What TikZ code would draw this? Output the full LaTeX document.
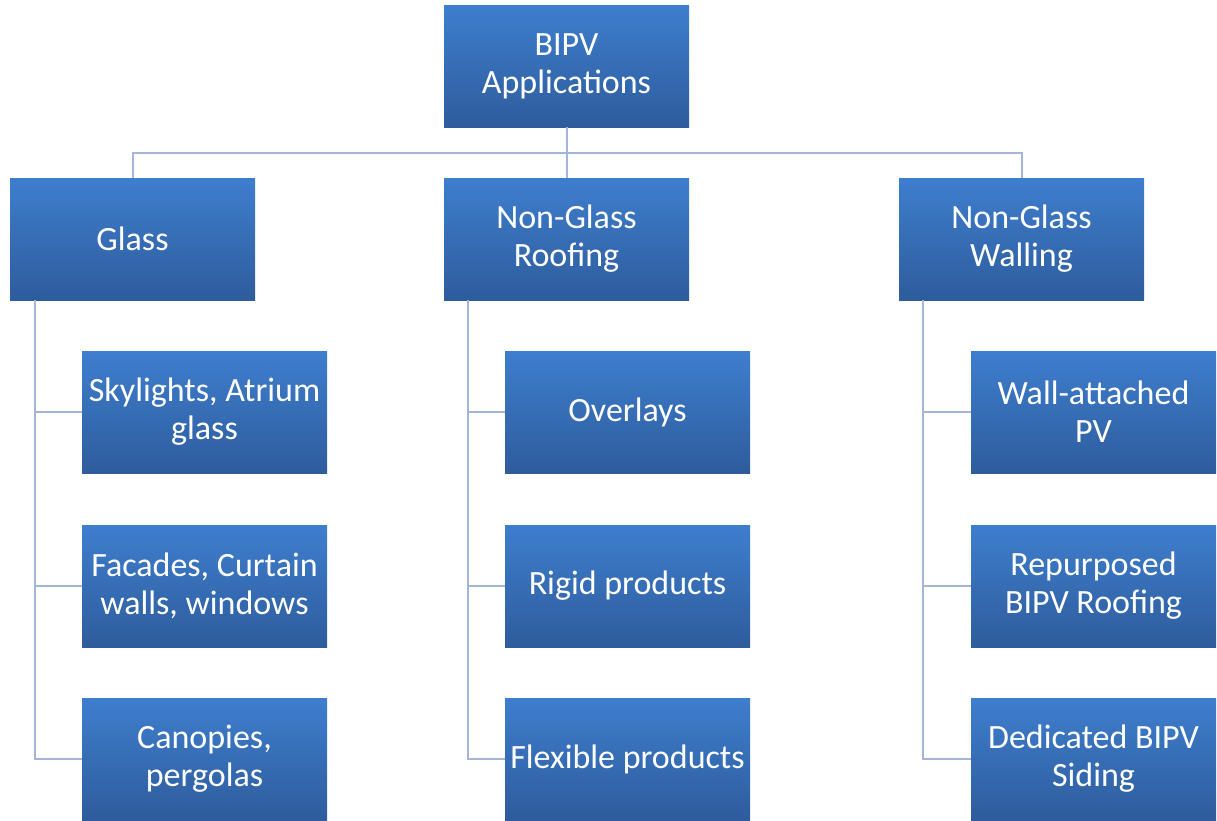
\documentclass[tikz,border=0pt]{standalone}
\usepackage{fontspec}
\setmainfont{Carlito}
\definecolor{boxtop}{RGB}{62,126,206}
\definecolor{boxbot}{RGB}{46,92,156}
\definecolor{linec}{RGB}{163,182,216}
\begin{document}
\begin{tikzpicture}[x=1pt,y=-1pt,
  box/.style={rectangle, minimum width=245pt, minimum height=122pt, inner sep=0pt,
    top color=boxtop, bottom color=boxbot, draw=none, text=white, align=center,
    font=\fontsize{34}{38}\selectfont},
  conn/.style={draw=linec, line width=2pt}]
\useasboundingbox (0,0) rectangle (1217,820);
\node[box] (root) at (566.5,66) {BIPV\\Applications};
\node[box] (glass) at (132.5,239) {Glass};
\node[box] (roof) at (566.5,239) {Non-Glass\\Roofing};
\node[box] (wall) at (1021.5,239) {Non-Glass\\Walling};
\node[box] (g1) at (204.5,412) {Skylights, Atrium\\glass};
\node[box] (g2) at (204.5,586) {Facades, Curtain\\walls, windows};
\node[box] (g3) at (204.5,759) {Canopies,\\pergolas};
\node[box] (r1) at (627.5,412) {Overlays};
\node[box] (r2) at (627.5,586) {Rigid products};
\node[box] (r3) at (627.5,759) {Flexible products};
\node[box] (w1) at (1093.5,412) {Wall-attached\\PV};
\node[box] (w2) at (1093.5,586) {Repurposed\\BIPV Roofing};
\node[box] (w3) at (1093.5,759) {Dedicated BIPV\\Siding};
\begin{scope}[on background layer/.try]
\end{scope}
\coordinate (hb) at (566.5,153);
\draw[conn] (root.south) -- (hb);
\draw[conn] (glass.north) -- (glass.north |- hb) -- (wall.north |- hb) -- (wall.north);
\draw[conn] (roof.north) -- (hb);
\draw[conn] ([xshift=-97.5pt]glass.south) |- (g1.west);
\draw[conn] ([xshift=-97.5pt]glass.south) |- (g2.west);
\draw[conn] ([xshift=-97.5pt]glass.south) |- (g3.west);
\draw[conn] ([xshift=-98.5pt]roof.south) |- (r1.west);
\draw[conn] ([xshift=-98.5pt]roof.south) |- (r2.west);
\draw[conn] ([xshift=-98.5pt]roof.south) |- (r3.west);
\draw[conn] ([xshift=-98.5pt]wall.south) |- (w1.west);
\draw[conn] ([xshift=-98.5pt]wall.south) |- (w2.west);
\draw[conn] ([xshift=-98.5pt]wall.south) |- (w3.west);
\end{tikzpicture}
\end{document}
